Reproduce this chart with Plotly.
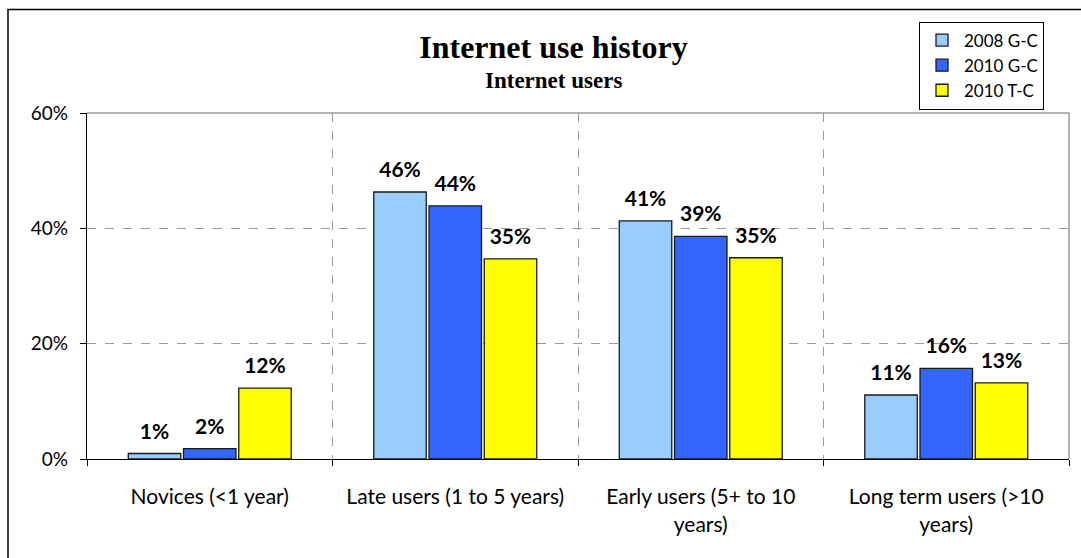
import plotly.graph_objects as go

categories = ["Novices (<1 year)", "Late users (1 to 5 years)",
              "Early users (5+ to 10<br>years)", "Long term users (>10<br>years)"]
series_names = ["2008 G-C", "2010 G-C", "2010 T-C"]
s2008_gc = [0.95, 46.3, 41.3, 11.1]
s2010_gc = [1.8, 43.9, 38.6, 15.7]
s2010_tc = [12.3, 34.7, 34.9, 13.2]
colors = ["#99CCFF", "#3366FF", "#FFFF00"]
y_ticks = [0, 20, 40, 60]
y_ticktext = ["0%", "20%", "40%", "60%"]

FONT = "Lato"
fig = go.Figure()
for name, vals, col in zip(series_names, [s2008_gc, s2010_gc, s2010_tc], colors):
    fig.add_trace(go.Bar(
        x=categories, y=vals, name=name,
        marker=dict(color=col, line=dict(color="#1a1a1a", width=1.3)),
        hoverinfo="skip",
    ))
for name, vals in zip(series_names, [s2008_gc, s2010_gc, s2010_tc]):
    fig.add_trace(go.Scatter(
        x=categories, y=vals, mode="markers+text", orientation="v",
        marker=dict(size=14, opacity=0),
        texttemplate="%{y:.0f}%", textposition="top center",
        textfont=dict(family=FONT, size=21, color="black", weight="bold"),
        showlegend=False, hoverinfo="skip", cliponaxis=False,
    ))

fig.update_layout(
    width=1081, height=558,
    margin=dict(l=87, r=12, t=113, b=99),
    paper_bgcolor="white", plot_bgcolor="white",
    barmode="group", scattermode="group",
    bargap=0.325, bargroupgap=0.05,
    font=dict(family=FONT, size=19, color="black"),
    title=dict(text="<b>Internet use history</b>", x=0.512, xanchor="center",
               y=1 - 47 / 558, yanchor="middle", yref="container",
               font=dict(family="Liberation Serif", size=32, color="black")),
    legend=dict(x=(919 - 87) / 982, y=(459.5 - 22) / 346, xanchor="left", yanchor="top",
                bordercolor="black", borderwidth=1, bgcolor="white",
                font=dict(family=FONT, size=17), tracegroupgap=0,
                itemwidth=34),
    showlegend=True,
)
fig.add_annotation(text="<b>Internet users</b>", xref="paper", yref="paper",
                   x=(553 - 87) / 982, y=(459.5 - 81) / 346, showarrow=False,
                   font=dict(family="Liberation Serif", size=23, color="black"),
                   xanchor="center", yanchor="middle")

fig.update_yaxes(range=[0, 60], tickmode="array", tickvals=y_ticks, ticktext=y_ticktext,
                 showgrid=True, gridcolor="#9a9a9a", griddash="dash", gridwidth=1,
                 showline=True, linecolor="black", linewidth=1.3,
                 ticks="outside", ticklen=6, tickcolor="black", ticklabelstandoff=8,
                 tickfont=dict(family=FONT, size=19), zeroline=False, fixedrange=True)
fig.update_xaxes(tickson="boundaries", showgrid=True, gridcolor="#9a9a9a", griddash="dash",
                 showline=True, linecolor="black", linewidth=1.3,
                 ticks="outside", ticklen=6, tickcolor="black", ticklabelstandoff=19,
                 tickfont=dict(family=FONT, size=21), fixedrange=True)

# plot-area top and right border, and outer chart frame
fig.add_shape(type="line", xref="paper", yref="paper", x0=0, x1=1, y0=1, y1=1,
              line=dict(color="#9a9a9a", width=1.5))
fig.add_shape(type="line", xref="paper", yref="paper", x0=1, x1=1, y0=0, y1=1,
              line=dict(color="#9a9a9a", width=1.5))
fig.add_shape(type="rect", xref="paper", yref="paper",
              x0=(8 - 87) / 982, x1=1.1, y0=-0.5, y1=(459.5 - 10) / 346,
              line=dict(color="black", width=1.5), layer="below")

fig.write_html("out.html", config={"displayModeBar": False},
               post_script="document.body.style.margin='0';")
